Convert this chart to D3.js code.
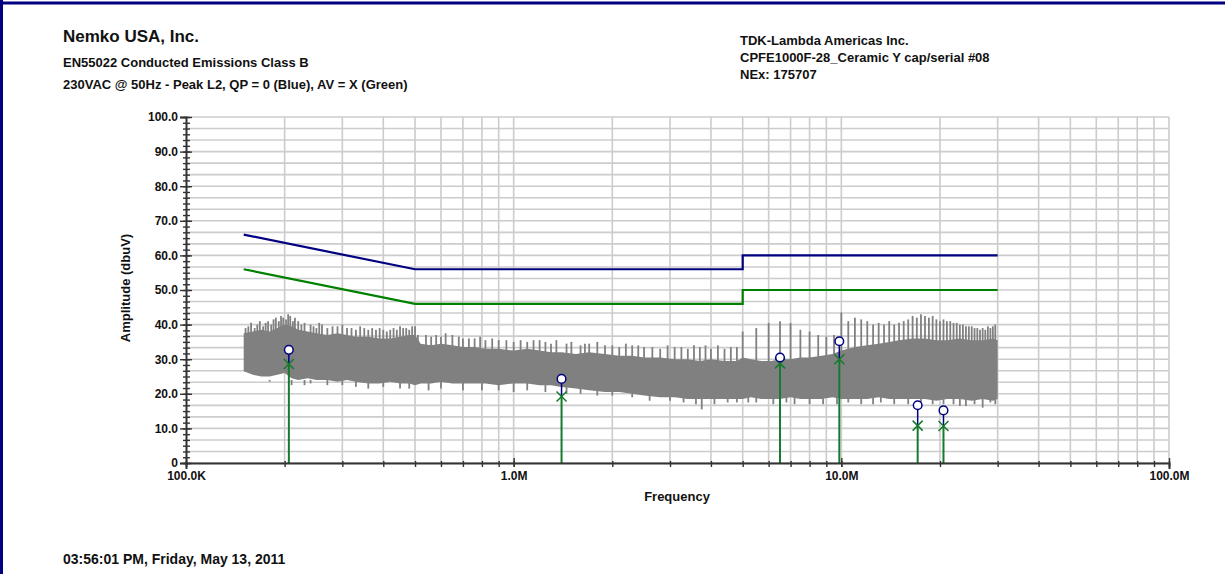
<!DOCTYPE html>
<html>
<head>
<meta charset="utf-8">
<script src="https://cdn.jsdelivr.net/npm/d3@7"></script>
<style>
  body { margin:0; background:#fff; }
  svg text { font-family: "Liberation Sans", Arial, sans-serif; font-weight: bold; fill:#111; }
</style>
</head>
<body>
<svg id="chart" width="1225" height="574"></svg>
<script>
// ---- data (frequencies in MHz, amplitudes in dBuV) ----
var headerLeft = ["EN55022 Conducted Emissions Class B", "230VAC @ 50Hz - Peak L2, QP = 0 (Blue), AV = X (Green)"];
var headerRight = ["TDK-Lambda Americas Inc.", "CPFE1000F-28_Ceramic Y cap/serial #08", "NEx: 175707"];
var xTickLabels = ["100.0K", "1.0M", "10.0M", "100.0M"];

// QP and AV limit lines
var qpLimit = [[0.15, 66], [0.5, 56], [5, 56], [5, 60], [30, 60]];
var avLimit = [[0.15, 56], [0.5, 46], [5, 46], [5, 50], [30, 50]];

// peak scan envelope
var envFreq = [0.15,0.16,0.17,0.18,0.19,0.2,0.21,0.22,0.235,0.25,0.27,0.29,0.31,0.33,0.36,0.39,0.42,0.45,0.48,0.5,
  0.52,0.56,0.6,0.65,0.7,0.76,0.82,0.9,1.0,1.1,1.2,1.3,1.4,1.55,1.7,1.9,2.1,2.3,2.5,2.8,3.1,3.4,3.7,4.0,4.4,4.8,
  5.0,5.3,5.7,6.1,6.5,7.0,7.5,8.0,8.7,9.4,10,11,12,13,14,15,16.5,18,19.5,21,23,25,27,29,30];
var envTop = [37.5,38,38.5,38,39,40,39.5,38.5,38,37.5,37,37.5,37,36.5,36.5,36,36,36.5,37,37,
  34.5,34,34.5,34,33.5,33.5,33,33,32.5,33,32.5,32,32,31.5,32,31.5,31,31,30.5,30.5,30,30,29.5,30,29.5,29.5,
  30.5,30,29.5,29.5,30,30,30.5,30.5,31,31.5,32.5,33.5,34,34.5,35,35.5,36,36,35.5,35.5,36,35.5,35.5,36,35.5];
var envBottom = [26.5,25.5,25,25,25.5,26,24.5,24,24.5,24,24,23.5,24,23.5,23,23,23.5,23,23,22.5,
  23,23,23.5,23,23,23,23,22.5,23,23,22.5,22.5,22,21.5,21,20.5,20.5,20,19.5,19,19,18.5,18.5,18.5,18.5,18.5,
  18.5,19,18.5,18.5,18.5,19,18.5,18.5,18.5,19,18.5,18.5,18.5,19,18.5,18.5,18.5,18.5,18,18.5,18.5,18,18.5,18,18.5];

// narrow spikes above the envelope
var spikeFreq = [0.152,0.155,0.158,0.162,0.165,0.168,0.172,0.175,0.178,0.182,0.185,0.188,0.192,0.195,0.198,0.202,
  0.205,0.208,0.212,0.215,0.22,0.225,0.23,0.24,0.245,0.25,0.255,0.26,0.27,0.28,0.29,0.3,0.31,0.32,0.33,0.34,0.35,
  0.36,0.37,0.38,0.39,0.4,0.41,0.42,0.43,0.44,0.45,0.46,0.47,0.48,0.49,0.5,0.51,0.54,0.56,0.58,0.6,0.62,0.65,0.68,
  0.7,0.73,0.76,0.79,0.82,0.86,0.9,0.95,1.0,1.05,1.1,1.15,1.2,1.25,1.3,1.35,1.45,1.5,1.6,1.65,1.7,1.8,1.9,2.0,2.1,
  2.2,2.3,2.4,2.5,2.65,2.8,2.95,3.1,3.25,3.4,3.55,3.7,3.85,4.0,4.2,4.4,4.6,4.8,
  5.0,5.5,6.0,6.5,7.0,7.5,8.0,8.5,9.0,9.5,10.0,10.5,11.0,11.5,12.0,12.5,13.0,13.5,14.0,14.5,15.0,15.5,16.0,16.5,17.0,
  17.5,18.0,18.5,19.0,19.5,20.0,20.5,21,21.5,22,22.5,23,23.5,24,24.5,25,25.5,26,26.5,27,27.5,28,28.5,29,29.5];
var spikePeak = [39,39.5,40.5,39,40,41,39.5,40.5,41,40,41.5,42,41,42.5,42,41.5,
  43,42.5,41,42,41,40,40.5,40,39.5,39,40.5,40,39,39.5,39.5,40,39,39,38.5,39.5,39,
  38.5,39,38.5,39,38.5,38,38.5,39,38.5,39.5,39,39,38.5,39.5,39.5,37,37,36.5,37,36.5,37.5,37,36.5,
  36,36,36,36.5,35.5,36,35.5,35.5,35,35.5,35,35.5,35.5,35,34.5,35.5,34.5,35,34,34.5,34.5,35,34,34,33.5,
  34.5,34,34,33.5,33.5,33,34,33.5,33.5,33,34,33.5,34,33,34,33,33.5,33.5,
  38,39,40.5,41,40.5,38.5,38,37,36.5,37,43.5,41,42,41.5,41,40,40.5,40,41,40,40.5,41,41.5,42.5,42,
  43,42.5,42,42.5,41.5,41,41.5,41,41,40.5,40.5,40,40,39.5,39.5,39.5,39,39,38.5,39,38.5,39.5,39,39.5,40];

// narrow dips below the envelope
var dipFreq = [0.16,0.18,0.19,0.21,0.23,0.24,0.27,0.3,0.33,0.36,0.4,0.45,0.48,0.55,0.6,0.7,0.8,0.9,1.0,1.1,1.25,1.45,
  1.6,1.8,2.0,2.3,2.6,3.0,3.3,3.6,3.75,4.1,4.5,4.8,5.2,5.5,6.2,6.8,7.2,8.0,8.8,9.7,10.5,11.5,12.5,13.2,14.5,16,17.5,
  19,20.5,22,23,24,25.5,27,28.5,29.5];
var dipLow = [24,23.5,24,22.5,22.5,23,22.5,22.5,22,21.5,22,21.5,21.5,21,21.5,21,21,21,20.5,21,20.5,20,
  20,19.5,19.5,19,18,18,17.5,17,15.5,17,17.5,17.5,17.5,17.5,17,17.5,17,17,17,17,17.5,17,17,17.5,17,17,17.5,
  17,17,17,16.5,16.5,17,16,17.5,17];

// final measurements
var measFreq = [0.206, 1.40, 6.50, 9.86, 17.1, 20.5];
var measQP = [32.7, 24.3, 30.5, 35.2, 16.7, 15.2];
var measAV = [28.6, 19.2, 28.8, 30.0, 10.8, 10.7];

// ---- drawing ----
var navy = "#000080", green = "#008000", stemGreen = "#147a2c", gray = "#808080", gridColor = "#cccccc";
var svg = d3.select("#chart");

var x = d3.scaleLog().domain([1e5, 1e8]).range([186, 1169]);
var y = d3.scaleLinear().domain([0, 100]).range([463, 117]);
var fx = function(mhz){ return x(mhz * 1e6); };

// page border (top + left)
svg.append("line").attr("x1", 0).attr("y1", 3).attr("x2", 1225).attr("y2", 3)
  .attr("stroke", navy).attr("stroke-width", 3);
svg.append("line").attr("x1", 1.5).attr("y1", 0).attr("x2", 1.5).attr("y2", 574)
  .attr("stroke", navy).attr("stroke-width", 3);

// header
svg.append("text").attr("x", 63).attr("y", 42).style("font-size", "17px").text("Nemko USA, Inc.");
headerLeft.forEach(function(t, i){
  svg.append("text").attr("x", 63).attr("y", 67 + i * 22).style("font-size", "13px").text(t);
});
headerRight.forEach(function(t, i){
  svg.append("text").attr("x", 740).attr("y", 45 + i * 17).style("font-size", "13px").text(t);
});
svg.append("text").attr("x", 63).attr("y", 564).style("font-size", "14px")
  .text("03:56:01 PM, Friday, May 13, 2011");

// grid
var grid = svg.append("g");
var hLines = d3.range(0, 31).map(function(i){ return i * 10 / 3; });
grid.selectAll("line.h").data(hLines).enter().append("line")
  .attr("x1", 186).attr("x2", 1169)
  .attr("y1", function(d){ return y(d); }).attr("y2", function(d){ return y(d); })
  .attr("stroke", gridColor).attr("stroke-width", 1.6);
var vLines = x.ticks(30).filter(function(d){ return d > 1e5; });
grid.selectAll("line.v").data(vLines).enter().append("line")
  .attr("y1", 117).attr("y2", 463)
  .attr("x1", function(d){ return x(d); }).attr("x2", function(d){ return x(d); })
  .attr("stroke", gridColor).attr("stroke-width", 1.6);

// limit lines
var line = d3.line().x(function(d){ return fx(d[0]); }).y(function(d){ return y(d[1]); });
svg.append("path").datum(qpLimit).attr("d", line).attr("fill", "none").attr("stroke", navy).attr("stroke-width", 2.2);
svg.append("path").datum(avLimit).attr("d", line).attr("fill", "none").attr("stroke", green).attr("stroke-width", 2.2);

// peak scan
var noise = svg.append("g");
var area = d3.area()
  .x(function(i){ return fx(envFreq[i]); })
  .y0(function(i){ return y(envBottom[i]); })
  .y1(function(i){ return y(envTop[i]); });
noise.append("path").datum(d3.range(envFreq.length)).attr("d", area).attr("fill", gray);
noise.selectAll("line.spike").data(d3.range(spikeFreq.length)).enter().append("line")
  .attr("x1", function(i){ return fx(spikeFreq[i]); }).attr("x2", function(i){ return fx(spikeFreq[i]); })
  .attr("y1", y(27)).attr("y2", function(i){ return y(spikePeak[i]); })
  .attr("stroke", gray).attr("stroke-width", 1.8);
noise.selectAll("line.dip").data(d3.range(dipFreq.length)).enter().append("line")
  .attr("x1", function(i){ return fx(dipFreq[i]); }).attr("x2", function(i){ return fx(dipFreq[i]); })
  .attr("y1", y(24)).attr("y2", function(i){ return y(dipLow[i]); })
  .attr("stroke", gray).attr("stroke-width", 1.8);

// measurement markers
var meas = svg.append("g");
d3.range(measFreq.length).forEach(function(i){
  var cx = fx(measFreq[i]);
  meas.append("line").attr("x1", cx).attr("x2", cx).attr("y1", y(0)).attr("y2", y(measAV[i]))
    .attr("stroke", stemGreen).attr("stroke-width", 2);
  meas.append("line").attr("x1", cx).attr("x2", cx).attr("y1", y(measAV[i])).attr("y2", y(measQP[i]))
    .attr("stroke", navy).attr("stroke-width", 1.5);
  var ay = y(measAV[i]);
  meas.append("path").attr("d", "M" + (cx - 5) + "," + (ay - 5) + "L" + (cx + 5) + "," + (ay + 5) +
      "M" + (cx - 5) + "," + (ay + 5) + "L" + (cx + 5) + "," + (ay - 5))
    .attr("stroke", stemGreen).attr("stroke-width", 1.5).attr("fill", "none");
  meas.append("circle").attr("cx", cx).attr("cy", y(measQP[i])).attr("r", 4.3)
    .attr("fill", "#fff").attr("stroke", navy).attr("stroke-width", 1.5);
});

// axes
var axisColor = "#333";
var yMinor = svg.append("g").attr("transform", "translate(186,0)")
  .call(d3.axisLeft(y).tickValues(d3.range(0, 61).map(function(i){ return i * 10 / 6; })).tickFormat(""));
yMinor.selectAll(".tick line").attr("x1", -3).attr("x2", 4).attr("stroke", axisColor).attr("stroke-width", 1.4);
yMinor.select(".domain").remove();

var yAxis = svg.append("g").attr("transform", "translate(186,0)")
  .call(d3.axisLeft(y).tickValues(d3.range(0, 101, 10))
    .tickFormat(function(d){ return d === 0 ? "0" : d3.format(".1f")(d); }).tickPadding(8));
yAxis.selectAll(".tick line").attr("x1", -6).attr("x2", 6).attr("stroke", axisColor).attr("stroke-width", 1.4);
yAxis.selectAll(".tick text").style("font-size", "12px").attr("x", -8);
yAxis.select(".domain").attr("stroke", axisColor).attr("stroke-width", 2);

var xMinor = svg.append("g").attr("transform", "translate(0,463)")
  .call(d3.axisBottom(x).tickValues(x.ticks(30)).tickFormat(""));
xMinor.selectAll(".tick line").attr("y1", -2).attr("y2", 4).attr("stroke", axisColor).attr("stroke-width", 1.4);
xMinor.select(".domain").remove();

var xAxis = svg.append("g").attr("transform", "translate(0,463)")
  .call(d3.axisBottom(x).tickValues([1e5, 1e6, 1e7, 1e8])
    .tickFormat(function(d, i){ return xTickLabels[i]; }));
xAxis.selectAll(".tick line").attr("y1", -5).attr("y2", 4).attr("stroke", axisColor).attr("stroke-width", 1.4);
xAxis.selectAll(".tick text").style("font-size", "12px").attr("y", 8);
xAxis.select(".domain").attr("stroke", axisColor).attr("stroke-width", 2);

// axis titles
svg.append("text").attr("x", 677).attr("y", 501).attr("text-anchor", "middle").style("font-size", "13px").text("Frequency");
svg.append("text").attr("transform", "translate(130,288) rotate(-90)").attr("text-anchor", "middle")
  .style("font-size", "13px").text("Amplitude (dbuV)");
</script>
</body>
</html>
